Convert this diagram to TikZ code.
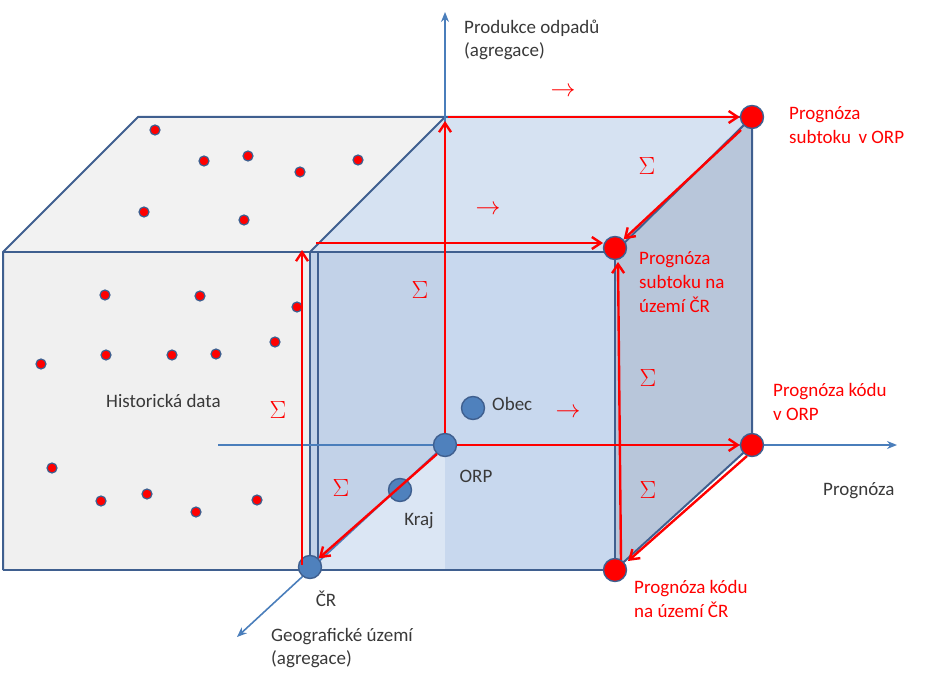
\documentclass[tikz,border=0pt]{standalone}
\usepackage{fontspec}
\setmainfont{Carlito}
\usetikzlibrary{arrows.meta}
\begin{document}
\begin{tikzpicture}[x=1pt,y=-1pt,
  ax/.style={draw=axblue, line width=1.6pt, -{Stealth[length=10pt,width=8pt]}},
  rarr/.style={draw=red, line width=2.4pt, -{Straight Barb[length=9pt,width=12pt]}},
  hd/.style={circle, fill=red, draw=edgeblue, line width=1.2pt, inner sep=0pt, minimum size=10pt},
  bn/.style={circle, fill=nodeblue, draw=edgeblue, line width=1.4pt, inner sep=0pt, minimum size=23pt},
  rn/.style={circle, fill=red, draw=edgeblue, line width=1.4pt, inner sep=0pt, minimum size=23pt},
  gl/.style={text=darkgray!90!black, font=\fontsize{19}{23}\selectfont, inner sep=1pt},
  rl/.style={text=red, font=\fontsize{19}{24}\selectfont, align=left, inner sep=1pt},
  sig/.style={text=red, font=\fontsize{28}{28}\selectfont, inner sep=0pt}]
\definecolor{edgeblue}{HTML}{3F5F8F}
\definecolor{axblue}{HTML}{4A7EBB}
\definecolor{nodeblue}{HTML}{4F81BD}
\useasboundingbox (0,0) rectangle (951,690);
% left gray box
\fill[gray!10] (3,252) -- (138,117) -- (445,117) -- (310,252) -- cycle;
\fill[gray!12] (3,252) rectangle (310,570);
\draw[draw=edgeblue,line width=2pt,line join=round] (3,570) -- (3,252) -- (138,117) -- (445,117);
\draw[draw=edgeblue,line width=2pt] (3,252) -- (310,252);
\draw[draw=edgeblue,line width=2pt] (3,570) -- (310,570);
\foreach \p [count=\i] in {(155,130),(204,161),(248,156),(300,172),(358,160),(144,212),(244,220),(105,295),(200,296),(297,307),(106,355),(172,355),(216,354),(275,342),(41,364),(52,468),(101,501),(147,494),(196,512),(257,500)}
  \node[hd] (d\i) at \p {};
% blue box faces
\fill[fill={rgb,255:red,184;green,200;blue,222}] (310,252) -- (445,117) -- (445,445) -- (310,570) -- cycle;
\fill[fill={rgb,255:red,214;green,226;blue,242}] (310,252) -- (445,117) -- (752,117) -- (615,252) -- cycle;
\fill[fill={rgb,255:red,184;green,198;blue,218}] (615,252) -- (752,117) -- (752,445) -- (615,570) -- cycle;
\fill[fill={rgb,255:red,200;green,216;blue,238}, opacity=0.65] (310,252) rectangle (615,570);
\fill[fill={rgb,255:red,200;green,216;blue,238}] (445,252) rectangle (615,570);
\draw[draw=edgeblue,line width=2pt,line join=round] (310,570) -- (310,252) -- (615,252) -- (615,570) -- cycle;
\draw[draw=edgeblue,line width=2pt] (318,252) -- (318,570);
\draw[draw=edgeblue,line width=2pt,line join=round] (310,252) -- (445,117) -- (752,117) -- (752,445) -- (615,570);
\draw[draw=edgeblue,line width=2pt] (615,252) -- (752,117);
% axes
\coordinate (o) at (445,445);
\coordinate (ytop) at (445,12);
\coordinate (xl) at (218,445);
\coordinate (xr) at (897,445);
\coordinate (zb) at (237,637);
\draw[ax] (o) -- (ytop);
\draw[ax] (xl) -- (xr);
\draw[ax] (o) -- (zb);
% nodes
\node[bn] (obec) at (473,408) {};
\node[bn] (orp) at (445,445) {};
\node[bn] (kraj) at (400,490) {};
\node[bn] (cr) at (310,567) {};
\node[rn] (r1) at (752,117) {};
\node[rn] (r2) at (615,248) {};
\node[rn] (r3) at (752,445) {};
\node[rn] (r4) at (615,570) {};
% red arrows
\coordinate (a2) at (445,121);
\coordinate (a3) at (448,117);
\coordinate (b1) at (302,565);
\coordinate (b2) at (302,250);
\coordinate (b3) at (316,243);
\coordinate (b4) at (603,243);
\coordinate (c1) at (741,130);
\coordinate (c2) at (437,454);
\coordinate (c3) at (621,560);
\coordinate (c4) at (618,262);
\coordinate (c5) at (747,456);
\coordinate (c6) at (628,561);
\draw[rarr] (orp.north) -- (a2);
\draw[rarr] (a3) -- (r1.west);
\draw[rarr] (c1) -- (r2.north east);
\draw[rarr] (b1) -- (b2);
\draw[rarr] (b3) -- (b4);
\draw[rarr] (orp.east) -- (r3.west);
\draw[rarr] (c2) -- (cr.north east);
\draw[rarr] (c3) -- (c4);
\draw[rarr] (c5) -- (c6);
% sigma and arrow glyphs
\node[sig] (s1) at (647,166) {$\Sigma$};
\node[sig] (s2) at (420,290) {$\Sigma$};
\node[sig] (s3) at (278,410) {$\Sigma$};
\node[sig] (s4) at (341,488) {$\Sigma$};
\node[sig] (s5) at (648,378) {$\Sigma$};
\node[sig] (s6) at (648,490) {$\Sigma$};
\node[sig] (t1) at (563,92) {$\rightarrow$};
\node[sig] (t2) at (488,210) {$\rightarrow$};
\node[sig] (t3) at (568,413) {$\rightarrow$};
% labels
\node[gl, anchor=west, align=left] (ly) at (463,40) {Produkce odpadů\\(agregace)};
\node[gl, anchor=west] (lobec) at (491,404) {Obec};
\node[gl] (lorp) at (476,476) {ORP};
\node[gl] (lkraj) at (419,521) {Kraj};
\node[gl] (lcr) at (326,599) {ČR};
\node[gl, anchor=west, align=left] (lz) at (270,648) {Geografické území\\(agregace)};
\node[gl, anchor=west] (lhist) at (105,401) {Historická data};
\node[gl, anchor=west] (lprog) at (822,491) {Prognóza};
\node[rl, anchor=west] (l1) at (788,125) {Prognóza\\subtoku\, v ORP};
\node[rl, anchor=west] (l2) at (638,282) {Prognóza\\subtoku na\\území ČR};
\node[rl, anchor=west] (l3) at (772,402) {Prognóza kódu\\v ORP};
\node[rl, anchor=west] (l4) at (633,599) {Prognóza kódu\\na území ČR};
\end{tikzpicture}
\end{document}
